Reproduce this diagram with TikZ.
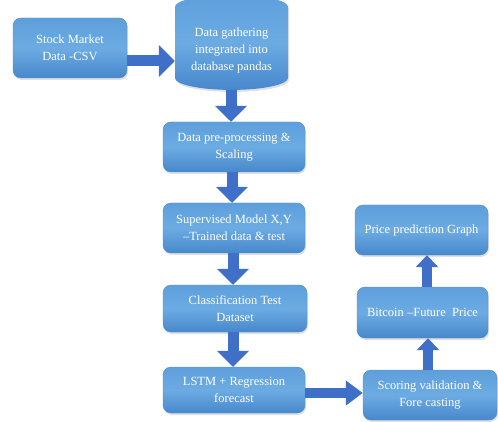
\documentclass[tikz,border=0pt]{standalone}
\usepackage{fontspec}
\setmainfont{Liberation Serif}
\usetikzlibrary{shapes.geometric,arrows.meta,shadows}
\definecolor{boxtop}{HTML}{5E9FDC}
\definecolor{boxmid}{HTML}{6CABE2}
\definecolor{boxbot}{HTML}{4788CC}
\definecolor{boxline}{HTML}{4F8CCB}
\definecolor{arrowblue}{HTML}{3F6FC6}
\tikzset{
  flowbox/.style={rectangle, rounded corners=8pt, draw=boxline, line width=0.4pt,
    top color=boxtop, bottom color=boxbot, middle color=boxmid,
    drop shadow={opacity=0.25, shadow xshift=1pt, shadow yshift=-2pt},
    text=white, align=center, font=\fontsize{12.5}{17}\selectfont, inner sep=2pt},
  dbshape/.style={cylinder, shape border rotate=90, aspect=0.28, draw=none,
    top color=boxtop, bottom color=boxbot, middle color=boxmid,
    drop shadow={opacity=0.25, shadow xshift=1pt, shadow yshift=-2pt},
    text=white, align=center, font=\fontsize{12.5}{17}\selectfont, inner sep=2pt},
  blockarrow/.style={draw=arrowblue, line width=11pt,
    -{Triangle[length=16pt,width=31pt]}},
}
\begin{document}
\begin{tikzpicture}[x=1pt,y=-1pt]
\useasboundingbox (0,0) rectangle (498,422);
\node[flowbox, minimum width=114pt, minimum height=60pt] (csv) at (70,48) {Stock Market\\Data -CSV};
\node[dbshape, minimum width=113pt, minimum height=95pt] (db) at (231.5,50) {Data gathering\\integrated into\\database pandas};
\node[flowbox, minimum width=142pt, minimum height=50pt] (pre) at (234,147) {Data pre-processing \&\\Scaling};
\node[flowbox, minimum width=142pt, minimum height=50pt] (sup) at (234,228) {Supervised Model X,Y\\--Trained data \& test};
\node[flowbox, minimum width=144pt, minimum height=47pt] (cls) at (235,308.5) {Classification Test\\Dataset};
\node[flowbox, minimum width=142pt, minimum height=46pt] (lstm) at (234,390) {LSTM + Regression\\forecast};
\node[flowbox, minimum width=134pt, minimum height=50pt] (score) at (430,395) {Scoring validation \&\\Fore casting};
\node[flowbox, minimum width=131pt, minimum height=51pt] (btc) at (422.5,312.5) {Bitcoin --Future\ \ Price};
\node[flowbox, minimum width=133pt, minimum height=50pt] (graph) at (421.5,230) {Price prediction Graph};
\draw[blockarrow] (csv.east |- 0,61) -- (db.west |- 0,61);
\draw[blockarrow] (db.south -| 231,0) -- (pre.north -| 231,0);
\draw[blockarrow] (pre.south -| 232,0) -- (sup.north -| 232,0);
\draw[blockarrow] (sup.south -| 233,0) -- (cls.north -| 233,0);
\draw[blockarrow] (cls.south -| 233,0) -- (lstm.north -| 233,0);
\draw[blockarrow, line width=10pt, -{Triangle[length=17pt,width=24pt]}] (lstm.east |- 0,393) -- (score.west |- 0,393);
\draw[blockarrow, line width=10pt, -{Triangle[length=12pt,width=22pt]}] (score.north -| 428,0) -- (btc.south -| 428,0);
\draw[blockarrow, line width=10pt, -{Triangle[length=12pt,width=22pt]}] (btc.north -| 427,0) -- (graph.south -| 427,0);
\end{tikzpicture}
\end{document}
